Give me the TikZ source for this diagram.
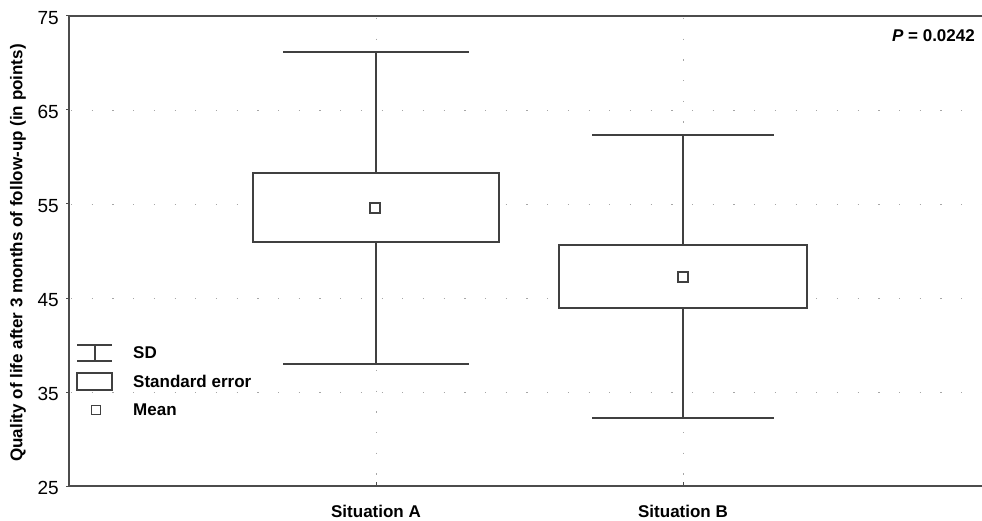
\documentclass[tikz,border=0pt]{standalone}
\usepackage{fontspec}
\setmainfont{Liberation Sans}
\begin{document}
\begin{tikzpicture}[x=1pt,y=-1pt,
  plotline/.style={draw=black!75,line width=1.8pt},
  frameline/.style={draw=black!70,line width=1.8pt},
  gridline/.style={draw=black!35,line width=0.9pt,dash pattern=on 1.2pt off 19.5pt},
  ticklab/.style={anchor=east,font=\fontsize{19}{19}\selectfont,inner sep=0pt},
  boldlab/.style={font=\fontsize{17}{17}\selectfont\bfseries,inner sep=0pt},
  meanmark/.style={draw=black!75,line width=1.6pt,fill=white,minimum size=10pt,inner sep=0pt,rectangle}]
\useasboundingbox (0,0) rectangle (982,521);
\fill[white] (0,0) rectangle (982,521);
% grid
\foreach \v in {35,45,55,65}{
  \draw[gridline] (71,{16+(75-\v)*9.4}) -- (982,{16+(75-\v)*9.4});
}
\draw[gridline] (376,18) -- (376,484);
\draw[gridline] (683,18) -- (683,484);
% frame
\draw[frameline] (982,16) -- (69,16) -- (69,486) -- (982,486);
% ticks
\foreach \v in {25,35,45,55,65,75}{
  \draw[black!70,line width=1pt] (66,{16+(75-\v)*9.4}) -- (69,{16+(75-\v)*9.4});
  \node[ticklab] (t\v) at (59,{18+(75-\v)*9.4}) {\v};
}
\draw[black!70,line width=1pt] (376,486) -- (376,482);
\draw[black!70,line width=1pt] (683,486) -- (683,482);
% axis labels
\node[boldlab,rotate=90] (ylab) at (18,253) {Quality of life after 3 months of follow-up (in points)};
\node[boldlab] (sa) at (376,511) {Situation A};
\node[boldlab] (sb) at (683,511) {Situation B};
\node[boldlab,anchor=east] (pval) at (975,36) {\textit{P} = 0.0242};
% Situation A
\coordinate (aT) at (376,52);
\coordinate (aB) at (376,364);
\draw[plotline] (283,52) -- (469,52);
\draw[plotline] (283,364) -- (469,364);
\draw[plotline] (aT) -- (376,173);
\draw[plotline] (376,242) -- (aB);
\draw[plotline,fill=white] (253,173) rectangle (499,242);
\node[meanmark] (ma) at (375,208) {};
% Situation B
\coordinate (bT) at (683,135);
\coordinate (bB) at (683,418);
\draw[plotline] (592,135) -- (774,135);
\draw[plotline] (592,418) -- (774,418);
\draw[plotline] (bT) -- (683,245);
\draw[plotline] (683,308) -- (bB);
\draw[plotline,fill=white] (559,245) rectangle (807,308);
\node[meanmark] (mb) at (683,277) {};
% legend
\draw[plotline] (77,345) -- (112,345);
\draw[plotline] (77,361) -- (112,361);
\draw[plotline] (95,345) -- (95,361);
\draw[plotline,fill=white] (77,373) rectangle (112,390);
\node[meanmark,minimum size=9pt,line width=1.4pt] (lm) at (96,410) {};
\node[boldlab,anchor=west] (lsd) at (133,353) {SD};
\node[boldlab,anchor=west] (lse) at (133,381) {Standard error};
\node[boldlab,anchor=west] (lmean) at (133,410) {Mean};
\end{tikzpicture}
\end{document}
